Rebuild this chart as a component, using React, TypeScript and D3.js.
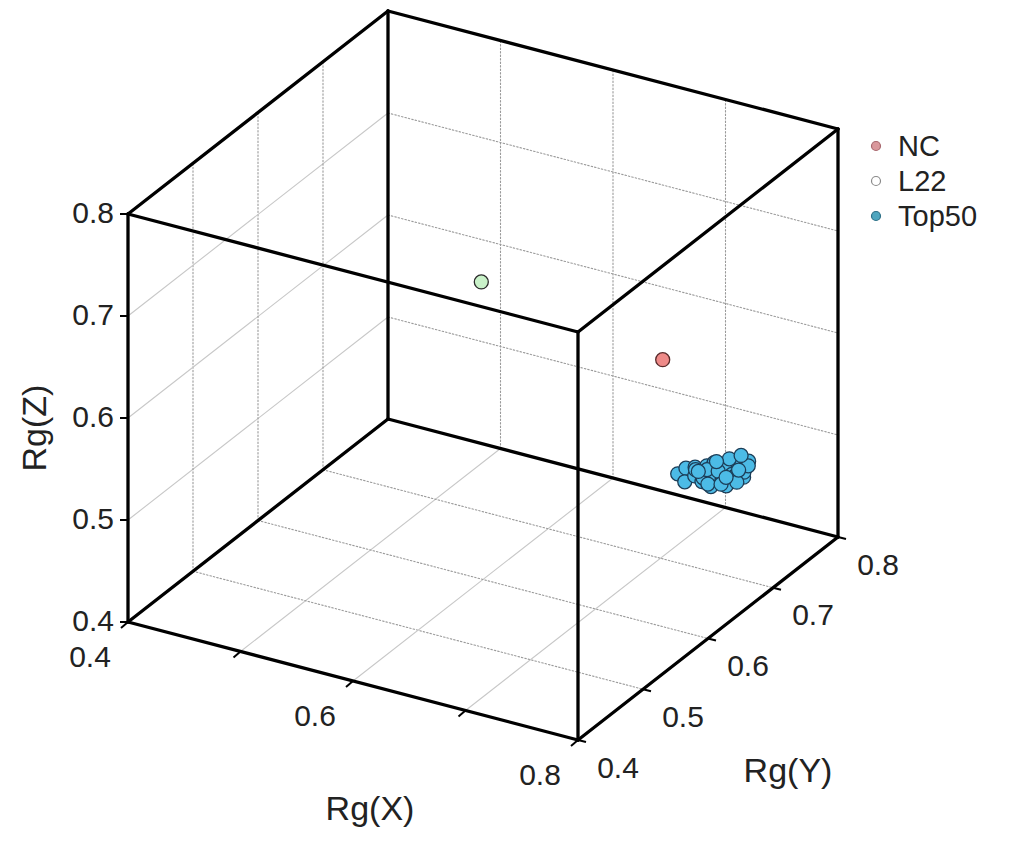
import * as d3 from 'd3'
import React from 'react'

// axis ticks shared by the three Rg axes
const TICKS = [0.4, 0.5, 0.6, 0.7, 0.8]
const GRID_TICKS = [0.5, 0.6, 0.7]
const X_LABELED = [0.4, 0.6, 0.8]

// single samples
const ncPoint = { x: 0.68, y: 0.738, z: 0.57 }
const l22Point = { x: 0.58, y: 0.632, z: 0.67 }

// Top50 Rg values
const top50X = [0.676, 0.681, 0.684, 0.688, 0.69, 0.693, 0.695, 0.697, 0.699, 0.701, 0.703, 0.705, 0.706, 0.708, 0.71, 0.711, 0.713, 0.714, 0.716, 0.717, 0.719, 0.72, 0.721, 0.723, 0.724, 0.725, 0.727, 0.728, 0.729, 0.73, 0.731, 0.733, 0.734, 0.735, 0.736, 0.737, 0.702, 0.709, 0.715, 0.722, 0.726, 0.732, 0.698, 0.704, 0.712, 0.718, 0.692, 0.707, 0.719, 0.729]
const top50Y = [0.768, 0.772, 0.765, 0.774, 0.77, 0.766, 0.776, 0.769, 0.773, 0.764, 0.771, 0.778, 0.767, 0.77, 0.775, 0.763, 0.772, 0.769, 0.777, 0.766, 0.771, 0.774, 0.765, 0.77, 0.778, 0.768, 0.773, 0.767, 0.776, 0.771, 0.764, 0.772, 0.769, 0.775, 0.766, 0.771, 0.779, 0.762, 0.78, 0.763, 0.779, 0.762, 0.775, 0.766, 0.768, 0.762, 0.772, 0.774, 0.768, 0.77]
const top50Z = [0.442, 0.447, 0.438, 0.449, 0.443, 0.452, 0.445, 0.44, 0.454, 0.447, 0.451, 0.444, 0.457, 0.448, 0.453, 0.45, 0.444, 0.459, 0.452, 0.448, 0.457, 0.45, 0.461, 0.454, 0.459, 0.45, 0.464, 0.456, 0.453, 0.466, 0.459, 0.463, 0.455, 0.468, 0.462, 0.466, 0.455, 0.442, 0.462, 0.446, 0.469, 0.453, 0.449, 0.441, 0.455, 0.447, 0.447, 0.46, 0.451, 0.46]

const legendItems = [
  { label: 'NC', fill: '#d9989c', stroke: '#a8686e' },
  { label: 'L22', fill: '#ffffff', stroke: '#8a8a8a' },
  { label: 'Top50', fill: '#4fa6bf', stroke: '#2d6f86' },
]

const WIDTH = 1018
const HEIGHT = 841
const FONT = '"Liberation Sans", Arial, sans-serif'

// oblique box: origin corner and the screen vectors of the three axes
const ORIGIN = [128, 622]
const EX = [450, 118]
const EY = [260, -203]
const EZ = [0, -408]

const unit = d3.scaleLinear().domain([0.4, 0.8]).range([0, 1])

const project = (x, y, z) => {
  const u = unit(x)
  const v = unit(y)
  const w = unit(z)
  return [
    ORIGIN[0] + u * EX[0] + v * EY[0] + w * EZ[0],
    ORIGIN[1] + u * EX[1] + v * EY[1] + w * EZ[1],
  ]
}

const Seg = ({ a, b, stroke = '#000', width = 3, dash = null }) => {
  const p = project(a[0], a[1], a[2])
  const q = project(b[0], b[1], b[2])
  return (
    <line
      x1={p[0]}
      y1={p[1]}
      x2={q[0]}
      y2={q[1]}
      stroke={stroke}
      strokeWidth={width}
      strokeDasharray={dash}
      strokeLinecap="round"
    />
  )
}

const Point = ({ d, fill, stroke }) => {
  const [cx, cy] = project(d.x, d.y, d.z)
  return <circle cx={cx} cy={cy} r={7} fill={fill} stroke={stroke} strokeWidth={1.3} />
}

export default function App() {
  const lo = 0.4
  const hi = 0.8
  const solidGrid = { stroke: '#c8c8c8', width: 1.1 }
  const dotGrid = { stroke: '#9a9a9a', width: 1.1, dash: '1.5 2' }

  const top50 = top50X.map((x, i) => ({ x, y: top50Y[i], z: top50Z[i] }))

  const edges = [
    [[lo, lo, lo], [hi, lo, lo]],
    [[lo, lo, lo], [lo, hi, lo]],
    [[lo, lo, lo], [lo, lo, hi]],
    [[hi, lo, lo], [hi, hi, lo]],
    [[hi, lo, lo], [hi, lo, hi]],
    [[lo, hi, lo], [hi, hi, lo]],
    [[lo, hi, lo], [lo, hi, hi]],
    [[lo, lo, hi], [hi, lo, hi]],
    [[lo, lo, hi], [lo, hi, hi]],
    [[hi, hi, lo], [hi, hi, hi]],
    [[hi, lo, hi], [hi, hi, hi]],
    [[lo, hi, hi], [hi, hi, hi]],
  ]

  return (
    <svg width={WIDTH} height={HEIGHT} style={{ position: 'absolute', left: 0, top: 0, background: '#fff' }}>
      <g className="grid">
        {GRID_TICKS.map(t => (
          <g key={`g${t}`}>
            {/* left wall */}
            <Seg a={[lo, lo, t]} b={[lo, hi, t]} {...solidGrid} />
            <Seg a={[lo, t, lo]} b={[lo, t, hi]} {...dotGrid} />
            {/* back wall */}
            <Seg a={[lo, hi, t]} b={[hi, hi, t]} {...dotGrid} />
            <Seg a={[t, hi, lo]} b={[t, hi, hi]} {...dotGrid} />
            {/* floor */}
            <Seg a={[t, lo, lo]} b={[t, hi, lo]} {...solidGrid} />
            <Seg a={[lo, t, lo]} b={[hi, t, lo]} {...dotGrid} />
          </g>
        ))}
      </g>

      <g className="box">
        {edges.map((e, i) => (
          <Seg key={i} a={e[0]} b={e[1]} width={3.3} />
        ))}
      </g>

      <g className="ticks" fontFamily={FONT} fontSize={30} fill="#222">
        {TICKS.map(t => {
          const [zx, zy] = project(lo, lo, t)
          const [xx, xy] = project(t, lo, lo)
          const [yx, yy] = project(hi, t, lo)
          return (
            <g key={`t${t}`}>
              <line x1={zx} y1={zy} x2={zx - 8} y2={zy} stroke="#000" strokeWidth={2} />
              <text x={zx - 14} y={zy - 2} textAnchor="end" dominantBaseline="central">
                {t.toFixed(1)}
              </text>
              <line x1={xx} y1={xy} x2={xx - 7} y2={xy + 6} stroke="#000" strokeWidth={2} />
              {X_LABELED.includes(t) && (
                <text x={xx - 38} y={xy + 34} textAnchor="middle" dominantBaseline="central">
                  {t.toFixed(1)}
                </text>
              )}
              <line x1={yx} y1={yy} x2={yx + 8} y2={yy + 2} stroke="#000" strokeWidth={2} />
              <text x={yx + 40} y={yy + 27} textAnchor="middle" dominantBaseline="central">
                {t.toFixed(1)}
              </text>
            </g>
          )
        })}
      </g>

      <g className="titles" fontFamily={FONT} fontSize={34} fill="#222" textAnchor="middle">
        <text transform="translate(34,428) rotate(-90)" dominantBaseline="central">Rg(Z)</text>
        <text x={370} y={808} dominantBaseline="central">Rg(X)</text>
        <text x={788} y={770} dominantBaseline="central">Rg(Y)</text>
      </g>

      <g className="points">
        <Point d={l22Point} fill="#c9f2c9" stroke="#2b2b2b" />
        <Point d={ncPoint} fill="#ee8a88" stroke="#5a2a2a" />
        {top50.map((d, i) => (
          <Point key={i} d={d} fill="#4cbbe6" stroke="#1c3d57" />
        ))}
      </g>

      <g className="legend" fontFamily={FONT} fontSize={29} fill="#222">
        {legendItems.map((item, i) => (
          <g key={item.label} transform={`translate(876,${146 + i * 35})`}>
            <circle r={4.5} fill={item.fill} stroke={item.stroke} strokeWidth={1.2} />
            <text x={22} y={0} dominantBaseline="central">{item.label}</text>
          </g>
        ))}
      </g>
    </svg>
  )
}
